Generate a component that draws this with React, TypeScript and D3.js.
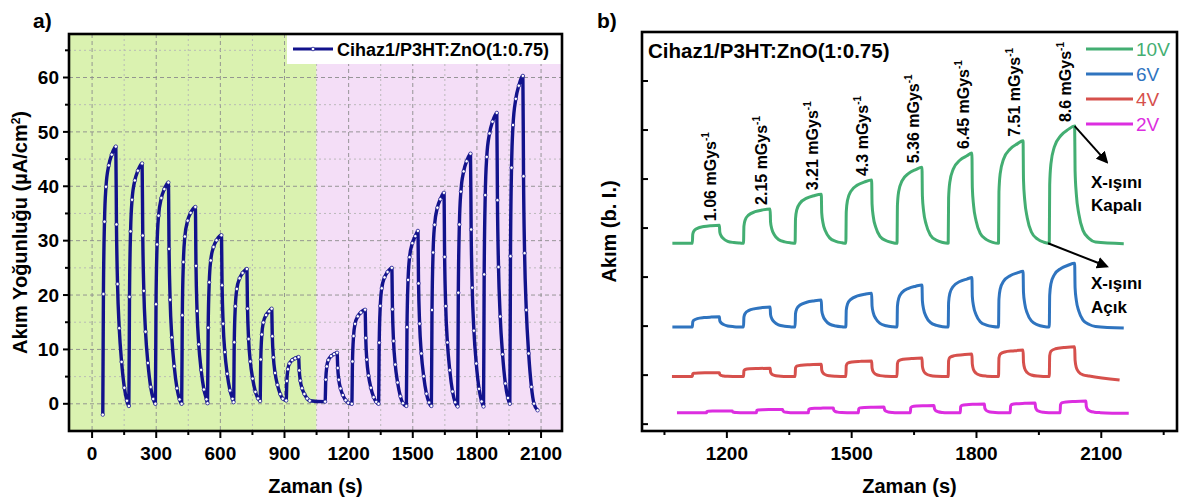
import React from 'react';
import * as d3 from 'd3';

const W = 1183;
const H = 504;
const FONT = '"Liberation Sans", Arial, Helvetica, sans-serif';

// ---------- Panel a data ----------
const aRiseTimes = [50, 172, 296, 419, 540, 662, 786, 908, 1090, 1215, 1340, 1470, 1587, 1710, 1831, 1954];
const aPeakTimes = [111, 234, 357, 483, 605, 724, 840, 966, 1146, 1277, 1402, 1524, 1646, 1770, 1893, 2015];
const aPeakValues = [47.3, 44.2, 40.7, 36.2, 31.0, 24.8, 17.5, 8.6, 9.4, 17.3, 25.0, 31.8, 38.8, 46.0, 53.5, 60.3];
const aMinValues = [-2.0, -0.4, 0.0, 0.0, 0.1, 0.3, 0.5, 0.6, 0.4, 0.0, 0.0, -0.4, -0.4, -0.5, -0.5, 0.0];
const aEndPoint: [number, number] = [2084, -1.2];
// normalised pulse shape: [seconds after edge, fraction of pulse height]
const aRiseShape = [[0, 0], [3, 0.45], [8, 0.72], [15, 0.85], [28, 0.93], [42, 0.97]];
const aFallShape = [[3, 0.7], [8, 0.47], [16, 0.3], [27, 0.17], [40, 0.07], [52, 0.02]];
const aXTicks = [0, 300, 600, 900, 1200, 1500, 1800, 2100];
const aYTicks = [0, 10, 20, 30, 40, 50, 60];
const aLegend = 'Cihaz1/P3HT:ZnO(1:0.75)';
const aSplitTime = 1050;

// ---------- Panel b data ----------
const bOnTimes = [1117, 1240, 1364, 1486, 1609, 1732, 1853, 1975];
const bOffTimes = [1182, 1304, 1427, 1548, 1669, 1789, 1912, 2036];
const b2VOnTimes = [1151, 1271, 1396, 1516, 1641, 1761, 1881, 2001];
const b2VOffTimes = [1213, 1334, 1456, 1578, 1698, 1819, 1941, 2063];
const voltages = ['10V', '6V', '4V', '2V'];
const colors = ['#43ae72', '#2f74bf', '#d6504c', '#dc2ee0'];
const baselines = [3.69, 1.98, 0.97, 0.23];
const tops10V = [4.06, 4.39, 4.69, 4.98, 5.24, 5.53, 5.78, 6.08];
const tops6V = [2.19, 2.39, 2.53, 2.67, 2.84, 2.99, 3.12, 3.28];
const tops4V = [1.05, 1.14, 1.22, 1.29, 1.35, 1.43, 1.51, 1.58];
const tops2V = [0.27, 0.30, 0.33, 0.35, 0.38, 0.41, 0.43, 0.47];
const traceStart = [1069, 1069, 1068, 1080];
const traceEnd = [2154, 2154, 2144, 2166];
const traceEndValue = [3.68, 1.96, 0.9, 0.22];
const softRise = [[0, 0], [1, 0.5], [4, 0.68], [12, 0.82], [28, 0.92], [45, 0.97]];
const softFall = [[1, 0.62], [4, 0.42], [10, 0.25], [20, 0.11], [35, 0.04], [50, 0.01]];
const squareRise = [[0, 0], [1, 0.7], [4, 0.85], [15, 0.93], [35, 0.97]];
const squareFall = [[1, 0.55], [4, 0.3], [10, 0.15], [20, 0.06], [35, 0.02]];
const doses = ['1.06', '2.15', '3.21', '4.3', '5.36', '6.45', '7.51', '8.6'];
const bXTicks = [1200, 1500, 1800, 2100];
const bYTicks = [0, 1, 2, 3, 4, 5, 6, 7];
const bTitle = 'Cihaz1/P3HT:ZnO(1:0.75)';

function buildA(): [number, number][] {
  const pts: [number, number][] = [];
  const n = aRiseTimes.length;
  for (let i = 0; i < n; i++) {
    const r = aRiseTimes[i], p = aPeakTimes[i], P = aPeakValues[i], s = aMinValues[i];
    for (const [dt, f] of aRiseShape) if (r + dt < p - 2) pts.push([r + dt, s + f * (P - s)]);
    pts.push([p, P]);
    const nt = i < n - 1 ? aRiseTimes[i + 1] : aEndPoint[0];
    const m = i < n - 1 ? aMinValues[i + 1] : aEndPoint[1];
    for (const [dt, f] of aFallShape) if (p + dt < nt - 2) pts.push([p + dt, m + f * (P - m)]);
  }
  pts.push(aEndPoint);
  return pts;
}

function buildB(k: number): [number, number][] {
  const tops = [tops10V, tops6V, tops4V, tops2V][k];
  const on = k === 3 ? b2VOnTimes : bOnTimes;
  const off = k === 3 ? b2VOffTimes : bOffTimes;
  const rise = k < 2 ? softRise : squareRise;
  const fall = k < 2 ? softFall : squareFall;
  const B = baselines[k];
  const pts: [number, number][] = [[traceStart[k], B]];
  for (let i = 0; i < on.length; i++) {
    const h = tops[i] - B;
    for (const [dt, f] of rise) if (on[i] + dt < off[i] - 2) pts.push([on[i] + dt, B + f * h]);
    pts.push([off[i], tops[i]]);
    const nt = i < on.length - 1 ? on[i + 1] : traceEnd[k];
    for (const [dt, f] of fall) if (off[i] + dt < nt - 2) pts.push([off[i] + dt, B + f * h]);
    if (i < on.length - 1) pts.push([on[i + 1] - 1, B]);
  }
  pts.push([traceEnd[k], traceEndValue[k]]);
  return pts;
}

export default function App() {
  const xA = d3.scaleLinear().domain([-108, 2198]).range([69, 562]);
  const yA = d3.scaleLinear().domain([-5, 68]).range([431, 34]);
  const xB = d3.scaleLinear().domain([996, 2282]).range([642, 1177]);
  const yB = d3.scaleLinear().domain([-0.14, 8.0]).range([431, 32]);

  const aPts = buildA();
  const lineA = d3.line<[number, number]>().x(d => xA(d[0])).y(d => yA(d[1])).curve(d3.curveMonotoneX);
  const lineB = d3.line<[number, number]>().x(d => xB(d[0])).y(d => yB(d[1])).curve(d3.curveMonotoneX);

  const aXGrid = d3.range(0, 2101, 150);
  const aYGrid = d3.range(-5, 66, 5);
  const [ax0, ax1] = xA.range();
  const [ay0, ay1] = [yA(-5), yA(68)];
  const [bx0, bx1] = xB.range();
  const [by0, by1] = [yB(-0.14), yB(8.0)];
  const bMinor = d3.range(1050, 2260, 300);

  const navy = '#12128c';

  return (
    <div style={{ position: 'absolute', left: 0, top: 0 }}>
      <svg width={W} height={H} style={{ display: 'block', fontFamily: FONT }}>
        <defs>
          <clipPath id="clipA"><rect x={ax0} y={ay1} width={ax1 - ax0} height={ay0 - ay1} /></clipPath>
          <marker id="arrowHead" viewBox="0 0 10 10" refX="8" refY="5" markerWidth="6" markerHeight="6" orient="auto">
            <path d="M0,0 L10,5 L0,10 z" fill="#000" />
          </marker>
        </defs>
        <rect x={0} y={0} width={W} height={H} fill="#fff" />

        {/* ---------------- Panel a ---------------- */}
        <text x={33} y={28} fontSize={21} fontWeight="bold">a)</text>
        <rect x={ax0} y={ay1} width={xA(aSplitTime) - ax0} height={ay0 - ay1} fill="#daf2b0" />
        <rect x={xA(aSplitTime)} y={ay1} width={ax1 - xA(aSplitTime)} height={ay0 - ay1} fill="#f4def7" />
        {aXGrid.map(t => (
          <line key={'gx' + t} x1={xA(t)} x2={xA(t)} y1={ay1} y2={ay0}
            stroke={t % 300 === 0 ? '#8c8c8c' : '#b4b4b4'} strokeWidth={0.9}
            strokeDasharray={t % 300 === 0 ? '4,3' : '2,3'} />
        ))}
        {aYGrid.map(v => (
          <line key={'gy' + v} x1={ax0} x2={ax1} y1={yA(v)} y2={yA(v)}
            stroke={v % 10 === 0 ? '#8c8c8c' : '#b4b4b4'} strokeWidth={0.9}
            strokeDasharray={v % 10 === 0 ? '4,3' : '2,3'} />
        ))}
        <g clipPath="url(#clipA)">
          <path d={lineA(aPts) || ''} fill="none" stroke={navy} strokeWidth={3.4} strokeLinejoin="round" />
          {aPts.map((p, i) => (
            <circle key={'m' + i} cx={xA(p[0])} cy={yA(p[1])} r={1.7} fill="#fff" stroke={navy} strokeWidth={0.7} />
          ))}
        </g>
        {/* legend */}
        <rect x={287} y={ay1} width={ax1 - 287} height={30} fill="#fff" />
        <line x1={293} x2={333} y1={49} y2={49} stroke={navy} strokeWidth={3} />
        <circle cx={313} cy={49} r={1.8} fill="#fff" stroke={navy} strokeWidth={0.7} />
        <text x={337} y={56} fontSize={18} fontWeight="bold">{aLegend}</text>
        {/* frame */}
        <rect x={ax0} y={ay1} width={ax1 - ax0} height={ay0 - ay1} fill="none" stroke="#000" strokeWidth={2.6} />
        {/* x ticks */}
        {aXGrid.map(t => (
          <line key={'tx' + t} x1={xA(t)} x2={xA(t)} y1={ay0} y2={ay0 + (t % 300 === 0 ? 7 : 4)} stroke="#000" strokeWidth={2} />
        ))}
        {aXTicks.map(t => (
          <text key={'lx' + t} x={xA(t)} y={460} fontSize={19} fontWeight="bold" textAnchor="middle">{t}</text>
        ))}
        {aYGrid.filter(v => v > -5).map(v => (
          <line key={'ty' + v} x1={ax0} x2={ax0 - (v % 10 === 0 ? 6 : 4)} y1={yA(v)} y2={yA(v)} stroke="#000" strokeWidth={2} />
        ))}
        {aYTicks.map(v => (
          <text key={'ly' + v} x={59} y={yA(v)} dy="0.35em" fontSize={19} fontWeight="bold" textAnchor="end">{v}</text>
        ))}
        <text x={(ax0 + ax1) / 2} y={493} fontSize={20} fontWeight="bold" textAnchor="middle">Zaman (s)</text>
        <text transform={`translate(27,${(ay0 + ay1) / 2}) rotate(-90)`} fontSize={20} fontWeight="bold" textAnchor="middle">
          Akım Yoğunluğu (µA/cm<tspan dy={-7} fontSize={12}>2</tspan><tspan dy={7}>)</tspan>
        </text>

        {/* ---------------- Panel b ---------------- */}
        <text x={597} y={28} fontSize={21} fontWeight="bold">b)</text>
        {voltages.map((v, k) => (
          <path key={'b' + v} d={lineB(buildB(k)) || ''} fill="none" stroke={colors[k]} strokeWidth={3} strokeLinejoin="round" />
        ))}
        <rect x={bx0} y={by1} width={bx1 - bx0} height={by0 - by1} fill="none" stroke="#000" strokeWidth={2.6} />
        {bYTicks.map(v => (
          <line key={'bty' + v} x1={bx0} x2={bx0 + 6} y1={yB(v)} y2={yB(v)} stroke="#000" strokeWidth={2} />
        ))}
        {bXTicks.map(t => (
          <line key={'btx' + t} x1={xB(t)} x2={xB(t)} y1={by0} y2={by0 + 7} stroke="#000" strokeWidth={2} />
        ))}
        {bMinor.map(t => (
          <line key={'btm' + t} x1={xB(t)} x2={xB(t)} y1={by0} y2={by0 + 4} stroke="#000" strokeWidth={2} />
        ))}
        {bXTicks.map(t => (
          <text key={'blx' + t} x={xB(t)} y={460} fontSize={19} fontWeight="bold" textAnchor="middle">{t}</text>
        ))}
        <text x={(bx0 + bx1) / 2} y={493} fontSize={20} fontWeight="bold" textAnchor="middle">Zaman (s)</text>
        <text transform={`translate(616,${(by0 + by1) / 2}) rotate(-90)`} fontSize={20} fontWeight="bold" textAnchor="middle">Akım (b. I.)</text>
        <text x={648} y={58} fontSize={20.5} fontWeight="bold">{bTitle}</text>
        {/* legend */}
        {voltages.map((v, k) => (
          <g key={'lg' + v}>
            <line x1={1086} x2={1133} y1={49 + k * 25} y2={49 + k * 25} stroke={colors[k]} strokeWidth={3} />
            <text x={1136} y={49 + k * 25} dy="0.36em" fontSize={19} fill={colors[k]}>{v}</text>
          </g>
        ))}
        {/* dose labels */}
        {doses.map((d, i) => (
          <text key={'dose' + i} transform={`translate(${xB(bOffTimes[i] - 20) + 5},${yB(tops10V[i]) - 4}) rotate(-90)`}
            fontSize={16} fontWeight="bold">
            {d} mGys<tspan dy={-7} fontSize={10}>-1</tspan>
          </text>
        ))}
        {/* annotations */}
        <line x1={xB(bOffTimes[7])} y1={yB(tops10V[7])} x2={xB(2113)} y2={yB(5.35)} stroke="#000" strokeWidth={2} markerEnd="url(#arrowHead)" />
        <line x1={xB(bOnTimes[7] - 3)} y1={yB(baselines[0])} x2={xB(2113)} y2={yB(3.22)} stroke="#000" strokeWidth={2} markerEnd="url(#arrowHead)" />
        <text x={1091} y={188} fontSize={17} fontWeight="bold">X-ışını</text>
        <text x={1091} y={211} fontSize={17} fontWeight="bold">Kapalı</text>
        <text x={1091} y={289} fontSize={17} fontWeight="bold">X-ışını</text>
        <text x={1091} y={313} fontSize={17} fontWeight="bold">Açık</text>
      </svg>
    </div>
  );
}
